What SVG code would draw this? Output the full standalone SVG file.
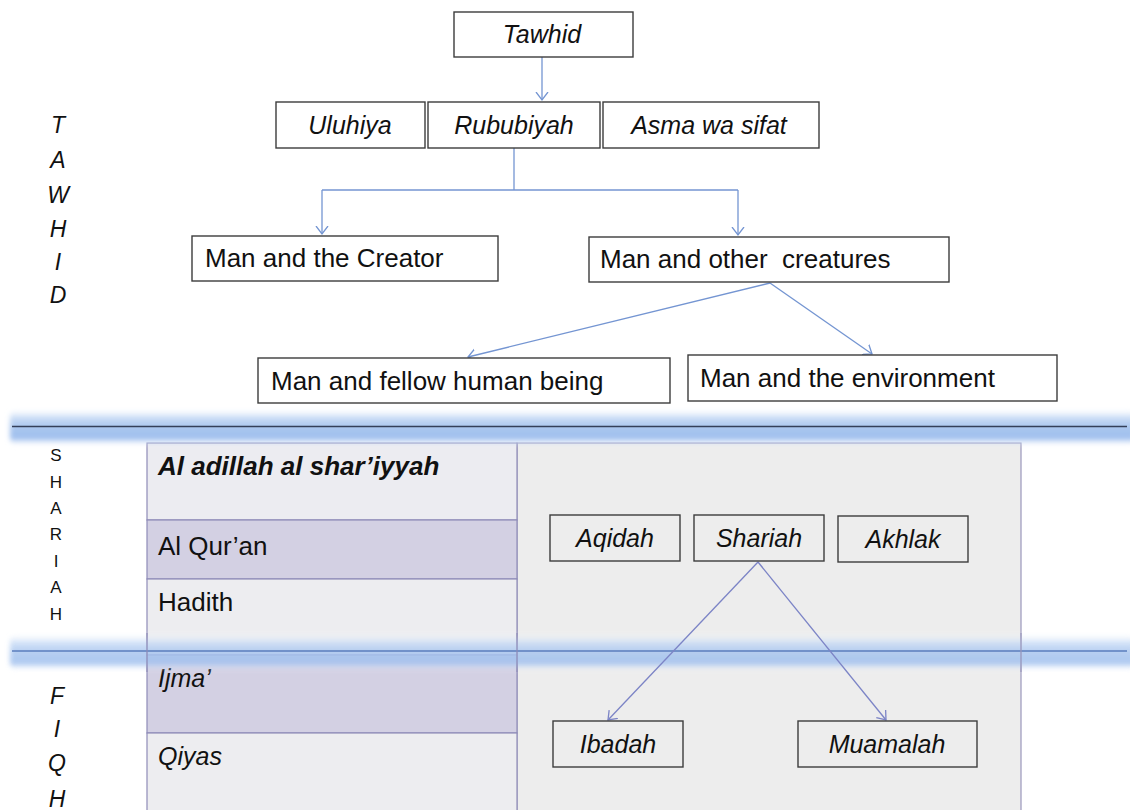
<svg xmlns="http://www.w3.org/2000/svg" width="1130" height="810" viewBox="0 0 1130 810">
<style>
.box{fill:#fff;stroke:#3c3c3c;stroke-width:1.4}
.gbox{fill:#ededed;stroke:#3c3c3c;stroke-width:1.4}
.t{font-family:"Liberation Sans",Arial,sans-serif;font-size:26px;fill:#111}
.ti{font-family:"Liberation Sans",Arial,sans-serif;font-size:25px;font-style:italic;fill:#111}
.side{font-family:"Liberation Sans",Arial,sans-serif;font-size:23px;font-style:italic;fill:#111;text-anchor:middle}
.sh{font-family:"Liberation Sans",Arial,sans-serif;font-size:17px;fill:#111;text-anchor:middle}
.c{text-anchor:middle}
.conn{fill:none;stroke:#7495d2;stroke-width:1.3}
.conn2{fill:none;stroke:#7c84c6;stroke-width:1.3}
.cell{stroke:#8f8cb8;stroke-width:1.2}
</style>
<defs>
<marker id="arr" markerUnits="userSpaceOnUse" markerWidth="16" markerHeight="16" refX="8" refY="8" orient="auto">
<polyline points="0,2 8,8 0,14" fill="none" stroke="#7495d2" stroke-width="1.3"/>
</marker>
<marker id="arr2" markerUnits="userSpaceOnUse" markerWidth="16" markerHeight="16" refX="8" refY="8" orient="auto">
<polyline points="0,2 8,8 0,14" fill="none" stroke="#7c84c6" stroke-width="1.3"/>
</marker>
<linearGradient id="glow" x1="0" y1="0" x2="0" y2="1">
<stop offset="0" stop-color="#ffffff" stop-opacity="0"/>
<stop offset="0.25" stop-color="#c6daf5" stop-opacity="0.9"/>
<stop offset="0.5" stop-color="#a9c6ef"/>
<stop offset="0.8" stop-color="#9fbfee"/>
<stop offset="1" stop-color="#ffffff" stop-opacity="0"/>
</linearGradient>
<filter id="blur" x="-2%" y="-30%" width="104%" height="160%">
<feGaussianBlur stdDeviation="2.5"/>
</filter>
</defs>
<rect width="1130" height="810" fill="#fff"/>

<g id="table">
<rect x="517" y="443" width="504" height="370" fill="#ededed" stroke="#9a97bb" stroke-width="1.2"/>
<rect class="cell" x="147" y="443" width="370" height="77" fill="#ececf1"/>
<rect class="cell" x="147" y="520" width="370" height="59" fill="#d3d0e3"/>
<rect class="cell" x="147" y="579" width="370" height="76" fill="#ededf0"/>
<rect class="cell" x="147" y="655" width="370" height="78" fill="#d3d0e3"/>
<rect class="cell" x="147" y="733" width="370" height="80" fill="#ededf0"/>
<text class="t" x="158" y="475" font-weight="bold" font-style="italic" font-size="24">Al adillah al shar’iyyah</text>
<text class="t" x="158" y="555" font-size="24">Al Qur’an</text>
<text class="t" x="158" y="611" font-size="24">Hadith</text>
<text class="ti" x="158" y="687" font-size="24">Ijma’</text>
<text class="ti" x="158" y="765" font-size="24">Qiyas</text>
</g>

<g id="bands">
<rect x="10" y="408" width="1125" height="38" rx="8" fill="url(#glow)" filter="url(#blur)"/>
<line x1="12" y1="426.5" x2="1127" y2="426.5" stroke="#34405a" stroke-width="1.5"/>
<rect x="10" y="633" width="1125" height="38" rx="8" fill="url(#glow)" filter="url(#blur)" opacity="0.85"/>
<line x1="12" y1="651" x2="1127" y2="651" stroke="#5a7cbc" stroke-width="1.5"/>
<line x1="147" y1="633" x2="147" y2="672" class="cell"/>
<line x1="517" y1="633" x2="517" y2="672" class="cell"/>
<line x1="1021" y1="633" x2="1021" y2="672" stroke="#9a97bb" stroke-width="1.2"/>
</g>

<g id="side-tawhid">
<text class="side" x="58" y="133">T</text>
<text class="side" x="58" y="168">A</text>
<text class="side" x="58" y="203">W</text>
<text class="side" x="58" y="237">H</text>
<text class="side" x="58" y="270">I</text>
<text class="side" x="58" y="303">D</text>
</g>
<g id="side-shariah">
<text class="sh" x="56" y="461">S</text>
<text class="sh" x="56" y="488">H</text>
<text class="sh" x="56" y="514">A</text>
<text class="sh" x="56" y="540">R</text>
<text class="sh" x="56" y="567">I</text>
<text class="sh" x="56" y="593">A</text>
<text class="sh" x="56" y="620">H</text>
</g>
<g id="side-fiqh">
<text class="side" x="57" y="704">F</text>
<text class="side" x="57" y="737">I</text>
<text class="side" x="57" y="771">Q</text>
<text class="side" x="57" y="807">H</text>
</g>

<g id="connectors">
<line class="conn" x1="542" y1="57" x2="542" y2="100" marker-end="url(#arr)"/>
<polyline class="conn" points="514,148 514,190"/>
<polyline class="conn" points="322,190 738,190"/>
<line class="conn" x1="322" y1="190" x2="322" y2="234" marker-end="url(#arr)"/>
<line class="conn" x1="738" y1="190" x2="738" y2="235" marker-end="url(#arr)"/>
<line class="conn" x1="770" y1="283" x2="468" y2="357" marker-end="url(#arr)"/>
<line class="conn" x1="770" y1="283" x2="872" y2="354" marker-end="url(#arr)"/>
<line class="conn2" x1="758" y1="562" x2="608" y2="720" marker-end="url(#arr2)"/>
<line class="conn2" x1="758" y1="562" x2="886" y2="720" marker-end="url(#arr2)"/>
</g>

<g id="n-tawhid"><rect class="box" x="454" y="12" width="179" height="45"/><text class="ti c" x="542" y="43">Tawhid</text></g>
<g id="n-uluhiya"><rect class="box" x="276" y="102" width="149" height="46"/><text class="ti c" x="350" y="134">Uluhiya</text></g>
<g id="n-rububiyah"><rect class="box" x="428" y="102" width="172" height="46"/><text class="ti c" x="514" y="134">Rububiyah</text></g>
<g id="n-asma"><rect class="box" x="603" y="102" width="216" height="46"/><text class="ti c" x="709" y="134">Asma wa sifat</text></g>
<g id="n-creator"><rect class="box" x="192" y="236" width="306" height="45"/><text class="t" x="205" y="267">Man and the Creator</text></g>
<g id="n-creatures"><rect class="box" x="589" y="237" width="360" height="45"/><text class="t" x="600" y="268" xml:space="preserve" style="white-space:pre">Man and other  creatures</text></g>
<g id="n-fellow"><rect class="box" x="258" y="358" width="412" height="45"/><text class="t" x="271" y="390">Man and fellow human being</text></g>
<g id="n-env"><rect class="box" x="688" y="355" width="369" height="46"/><text class="t" x="700" y="387">Man and the environment</text></g>
<g id="n-aqidah"><rect class="gbox" x="550" y="515" width="130" height="46"/><text class="ti c" x="615" y="547">Aqidah</text></g>
<g id="n-shariah"><rect class="gbox" x="694" y="515" width="130" height="46"/><text class="ti c" x="759" y="547">Shariah</text></g>
<g id="n-akhlak"><rect class="gbox" x="838" y="516" width="130" height="46"/><text class="ti c" x="903" y="548">Akhlak</text></g>
<g id="n-ibadah"><rect class="gbox" x="553" y="721" width="130" height="46"/><text class="ti c" x="618" y="753">Ibadah</text></g>
<g id="n-muamalah"><rect class="gbox" x="798" y="721" width="179" height="46"/><text class="ti c" x="887" y="753">Muamalah</text></g>
</svg>
